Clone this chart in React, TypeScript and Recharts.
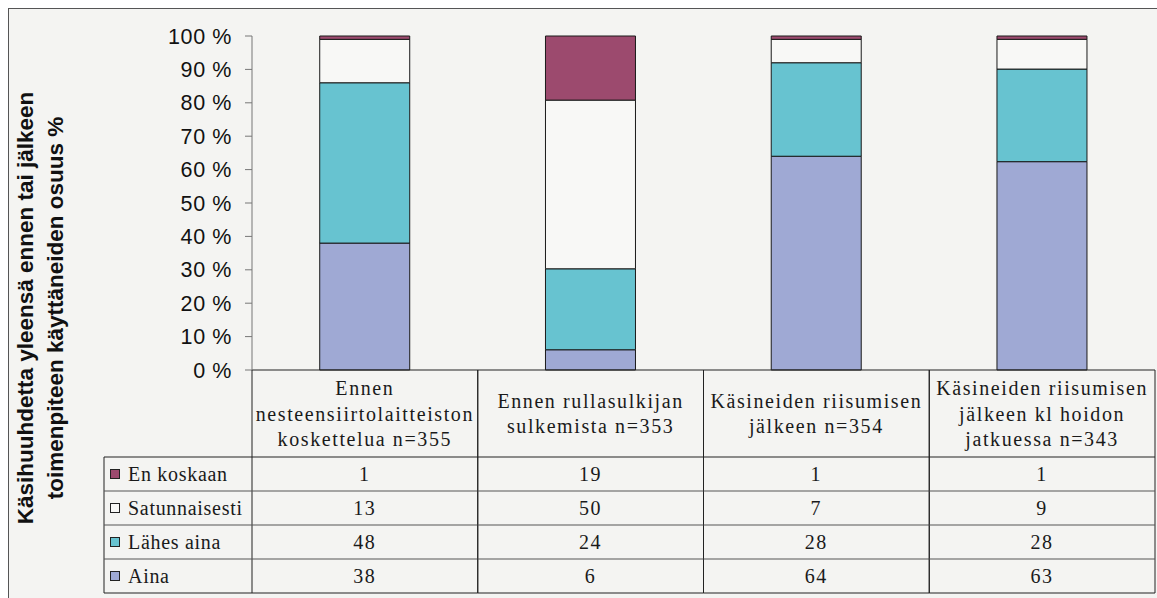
import { Bar, BarChart, XAxis, YAxis } from "recharts";

const categories = [
  "Ennen\nnesteensiirtolaitteiston\nkoskettelua n=355",
  "Ennen rullasulkijan\nsulkemista n=353",
  "Käsineiden riisumisen\njälkeen n=354",
  "Käsineiden riisumisen\njälkeen kl hoidon\njatkuessa n=343",
];

const aina = [38, 6, 64, 63];
const lahesAina = [48, 24, 28, 28];
const satunnaisesti = [13, 50, 7, 9];
const enKoskaan = [1, 19, 1, 1];

const yTicks = [0, 0.1, 0.2, 0.3, 0.4, 0.5, 0.6, 0.7, 0.8, 0.9, 1];

// bottom-to-top stacking order
const SERIES = [
  { key: "aina", name: "Aina", color: "#9fa9d4", values: aina },
  { key: "lahesAina", name: "Lähes aina", color: "#67c3d0", values: lahesAina },
  { key: "satunnaisesti", name: "Satunnaisesti", color: "#f8f8f6", values: satunnaisesti },
  { key: "enKoskaan", name: "En koskaan", color: "#9c4a6e", values: enKoskaan },
];

// table rows go top-to-bottom
const TABLE_ROWS = [...SERIES].reverse();

const data = categories.map((name, i) => {
  const row: Record<string, string | number> = { name };
  SERIES.forEach((s) => {
    row[s.key] = s.values[i];
  });
  return row;
});

const SERIF = "Liberation Serif, DejaVu Serif, Times New Roman, serif";
const SANS = "Liberation Sans, Arial, sans-serif";
const HEADER_H = 87;
const ROW_H = 34;
const LEGEND_W = 148;
const LINE_GAP = 25.5;
const GRID = "#222";

function Cell(props: any) {
  return (
    <text
      fontFamily={SERIF}
      fontSize={20}
      letterSpacing={1.6}
      fill="#1a1a1a"
      dy="0.35em"
      {...props}
    />
  );
}

function TableTick(props: any) {
  const { x, y, index, payload, width, visibleTicksCount } = props;
  const colW = width && visibleTicksCount ? width / visibleTicksCount : 226;
  const left = x - colW / 2;
  const right = x + colW / 2;
  const rowsTop = y + HEADER_H;
  const bottom = rowsTop + ROW_H * TABLE_ROWS.length;
  const lines = String(payload.value).split("\n");
  const headerMid = y + HEADER_H / 2;

  return (
    <g>
      {lines.map((ln, i) => (
        <Cell key={i} x={x} y={headerMid + (i - (lines.length - 1) / 2) * LINE_GAP} textAnchor="middle">
          {ln}
        </Cell>
      ))}
      {TABLE_ROWS.map((r, ri) => (
        <Cell key={r.key} x={x} y={rowsTop + ri * ROW_H + ROW_H / 2} textAnchor="middle">
          {r.values[index]}
        </Cell>
      ))}
      <line x1={left} y1={y} x2={left} y2={bottom} stroke={GRID} />
      <line x1={right} y1={y} x2={right} y2={bottom} stroke={GRID} />
      {TABLE_ROWS.map((r, ri) => (
        <line
          key={r.key}
          x1={left}
          y1={rowsTop + ri * ROW_H}
          x2={right}
          y2={rowsTop + ri * ROW_H}
          stroke={ri === 0 ? GRID : "#555"}
        />
      ))}
      <line x1={left} y1={bottom} x2={right} y2={bottom} stroke={GRID} />

      {/* legend column of the data table */}
      {index === 0 && (
        <g>
          <line x1={left - LEGEND_W} y1={rowsTop} x2={left - LEGEND_W} y2={bottom} stroke={GRID} />
          {TABLE_ROWS.map((r, ri) => {
            const ry = rowsTop + ri * ROW_H;
            return (
              <g key={r.key}>
                <line x1={left - LEGEND_W} y1={ry} x2={left} y2={ry} stroke={ri === 0 ? GRID : "#555"} />
                <rect
                  x={left - LEGEND_W + 6.5}
                  y={ry + ROW_H / 2 - 4.5}
                  width={9}
                  height={9}
                  fill={r.color}
                  stroke="#222"
                  strokeWidth={1}
                />
                <Cell x={left - LEGEND_W + 24} y={ry + ROW_H / 2} letterSpacing={0.7}>
                  {r.name}
                </Cell>
              </g>
            );
          })}
          <line x1={left - LEGEND_W} y1={bottom} x2={left} y2={bottom} stroke={GRID} />
        </g>
      )}
    </g>
  );
}

function YTitle() {
  return (
    <g fontFamily={SANS} fontSize={22.5} fontWeight={700} fill="#111">
      <text x={24} y={299} transform="rotate(-90 24 299)" textAnchor="middle">
        Käsihuuhdetta yleensä ennen tai jälkeen
      </text>
      <text x={54} y={299} transform="rotate(-90 54 299)" textAnchor="middle">
        toimenpiteen käyttäneiden osuus %
      </text>
    </g>
  );
}

export default function App() {
  return (
    <div
      style={{
        position: "fixed",
        left: 8,
        top: 8,
        width: 1200,
        height: 650,
        border: "1px solid #555",
        background: "#f4f4f2",
      }}
    >
      <BarChart
        width={1150}
        height={600}
        data={data}
        stackOffset="expand"
        barCategoryGap="30%"
        margin={{ top: 27, right: 4, left: 0, bottom: 16 }}
      >
        <XAxis
          dataKey="name"
          height={223}
          interval={0}
          tickSize={0}
          tickMargin={0}
          tickLine={false}
          axisLine={{ stroke: GRID }}
          tick={<TableTick />}
        />
        <YAxis
          width={243}
          domain={[0, 1]}
          ticks={yTicks}
          tickSize={7}
          tickMargin={13}
          interval={0}
          axisLine={{ stroke: "#777" }}
          tickLine={{ stroke: "#777" }}
          tick={{ fontFamily: SANS, fontSize: 21.5, fill: "#111", letterSpacing: 0.6 }}
          tickFormatter={(v: number) => `${Math.round(v * 100)} %`}
          label={{ content: () => <YTitle /> }}
        />
        {SERIES.map((s) => (
          <Bar
            key={s.key}
            dataKey={s.key}
            name={s.name}
            stackId="a"
            fill={s.color}
            stroke="#1a1a1a"
            strokeWidth={1}
            isAnimationActive={false}
          />
        ))}
      </BarChart>
    </div>
  );
}
